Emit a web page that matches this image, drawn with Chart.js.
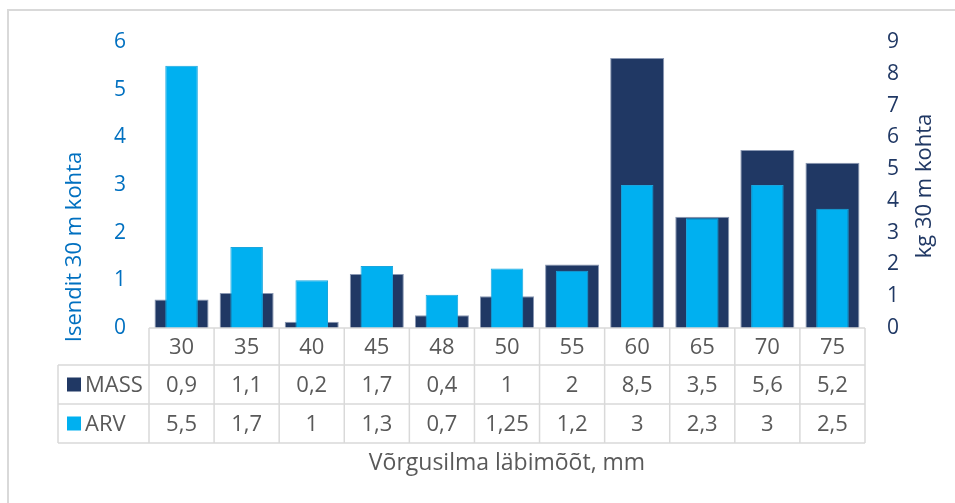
<!DOCTYPE html>
<html><head><meta charset="utf-8">
<script src="https://cdn.jsdelivr.net/npm/chart.js@4.4.0/dist/chart.umd.min.js"></script>
<style>
html,body{margin:0;padding:0;background:#fff;}
#wrap{position:relative;width:955px;height:503px;overflow:hidden;}
#frame{position:absolute;left:7px;top:9px;width:1000px;height:600px;border-left:2px solid #D9D9D9;border-top:2px solid #D9D9D9;}
canvas{position:absolute;left:0;top:0;}
</style></head><body>
<div id="wrap"><div id="frame"></div><canvas id="c" width="955" height="503"></canvas></div>
<script>
const categories = ['30','35','40','45','48','50','55','60','65','70','75'];
const massValues = [0.9, 1.1, 0.2, 1.7, 0.4, 1, 2, 8.5, 3.5, 5.6, 5.2];
const arvValues  = [5.5, 1.7, 1, 1.3, 0.7, 1.25, 1.2, 3, 2.3, 3, 2.5];
const leftTickMax = 6;
const rightTickMax = 9;
const seriesNames = ['MASS', 'ARV'];
const leftTitle = 'Isendit 30 m kohta';
const rightTitle = 'kg 30 m kohta';
const xTitle = 'Võrgusilma läbimõõt, mm';

const FONT = '"Open Sans", sans-serif';
const C_MASS = '#203864', C_ARV = '#00B0F0';
const fmt = v => String(v).replace('.', ',');

const tablePlugin = {
  id: 'tablePlugin',
  afterDraw(chart) {
    const ctx = chart.ctx, ca = chart.chartArea, xs = chart.scales.x;
    const n = categories.length, colW = (ca.right - ca.left) / n;
    const y0 = ca.bottom, y1 = y0 + 37, y2 = y1 + 39, y3 = y2 + 39;
    const hx = 58;
    ctx.save();
    ctx.strokeStyle = '#D9D9D9'; ctx.lineWidth = 1.5;
    ctx.beginPath();
    ctx.moveTo(ca.left, y0); ctx.lineTo(ca.right, y0);
    [y1, y2, y3].forEach(y => { ctx.moveTo(hx, y); ctx.lineTo(ca.right, y); });
    for (let i = 0; i <= n; i++) { const x = ca.left + i * colW; ctx.moveTo(x, y0); ctx.lineTo(x, y3); }
    ctx.moveTo(hx, y1); ctx.lineTo(hx, y3);
    ctx.stroke();
    ctx.fillStyle = '#595959'; ctx.font = '22px ' + FONT;
    ctx.textAlign = 'center'; ctx.textBaseline = 'middle';
    categories.forEach((c, i) => {
      const x = xs.getPixelForValue(i);
      ctx.fillText(c, x, (y0 + y1) / 2 + 1);
      ctx.fillText(fmt(massValues[i]), x, (y1 + y2) / 2 + 1);
      ctx.fillText(fmt(arvValues[i]), x, (y2 + y3) / 2 + 1);
    });
    // legend keys
    ctx.fillStyle = C_MASS; ctx.fillRect(67, (y1 + y2) / 2 - 7, 14, 14);
    ctx.fillStyle = C_ARV; ctx.fillRect(67, (y2 + y3) / 2 - 7, 14, 14);
    ctx.fillStyle = '#595959'; ctx.textAlign = 'left';
    ctx.fillText(seriesNames[0], 85, (y1 + y2) / 2 + 1);
    ctx.fillText(seriesNames[1], 85, (y2 + y3) / 2 + 1);
    // titles
    ctx.textAlign = 'center';
    ctx.font = '23px ' + FONT;
    ctx.fillText(xTitle, 507, 463);
    ctx.save(); ctx.translate(75, 247); ctx.rotate(-Math.PI / 2);
    ctx.fillStyle = '#0070C0'; ctx.font = '22px ' + FONT; ctx.fillText(leftTitle, 0, 0); ctx.restore();
    ctx.save(); ctx.translate(925, 186); ctx.rotate(-Math.PI / 2);
    ctx.fillStyle = C_MASS; ctx.font = '22px ' + FONT; ctx.fillText(rightTitle, 0, 0); ctx.restore();
    ctx.restore();
  }
};

new Chart(document.getElementById('c'), {
  type: 'bar',
  data: {
    labels: categories,
    datasets: [
      { label: seriesNames[1], data: arvValues, yAxisID: 'y', backgroundColor: C_ARV,
        borderColor: '#1AA6DE', borderWidth: 1, barPercentage: 0.5, categoryPercentage: 1, grouped: false, order: 1 },
      { label: seriesNames[0], data: massValues, yAxisID: 'y1', backgroundColor: C_MASS,
        borderColor: '#8A98B3', borderWidth: 1, barPercentage: 0.83, categoryPercentage: 1, grouped: false, order: 2 }
    ]
  },
  options: {
    responsive: false, animation: false, devicePixelRatio: 1,
    layout: { padding: { left: 60, right: 20, top: 42, bottom: 175 } },
    plugins: { legend: { display: false }, tooltip: { enabled: false } },
    scales: {
      x: { display: false },
      y: { position: 'left', min: 0, max: leftTickMax,
        ticks: { stepSize: 1, color: '#0070C0', font: { family: FONT, size: 21 }, padding: 23 },
        grid: { display: false, drawTicks: false }, border: { display: false },
        afterFit: s => { s.width = 89; } },
      y1: { position: 'right', min: 0, max: rightTickMax,
        ticks: { stepSize: 1, color: C_MASS, font: { family: FONT, size: 21 }, padding: 22 },
        grid: { display: false, drawTicks: false }, border: { display: false },
        afterFit: s => { s.width = 70; } }
    }
  },
  plugins: [tablePlugin]
});
</script>
</body></html>
